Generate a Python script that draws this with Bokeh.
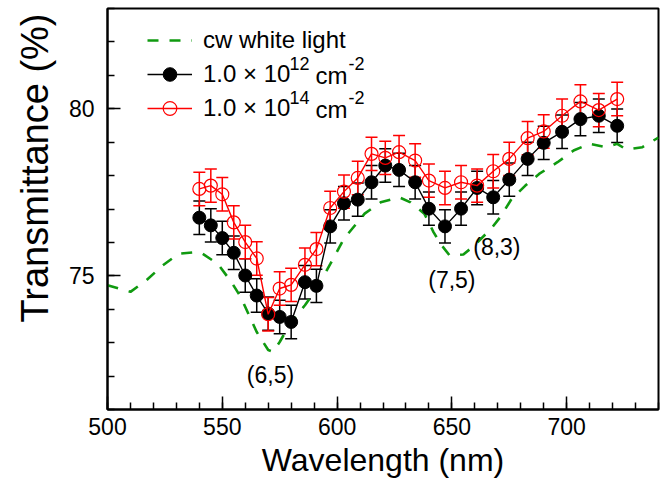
import math
from bokeh.plotting import figure
from bokeh.models import (ColumnDataSource, Whisker, TeeHead, Legend, LegendItem, Label,
                          FixedTicker, Range1d, Title)
from bokeh.embed import file_html
from bokeh.resources import INLINE

# ---------------- data ----------------
wavelength = [540, 545, 550, 555, 560, 565, 570, 575, 580, 586, 591, 597, 603, 609, 615,
              621, 627, 634, 640, 647, 654, 661, 668, 675, 683, 690, 698, 706, 714, 722]
t_1e12 = [76.74, 76.51, 76.13, 75.69, 75.01, 74.41, 73.87, 73.77, 73.62, 74.81, 74.70, 76.48,
          77.17, 77.28, 77.80, 78.30, 78.17, 77.80, 77.01, 76.48, 77.01, 77.63, 77.35, 77.88,
          78.50, 78.98, 79.31, 79.69, 79.79, 79.49]
t_1e14 = [77.60, 77.70, 77.44, 76.60, 76.01, 75.52, 73.85, 74.62, 74.73, 75.33, 75.80, 77.03,
          77.52, 77.93, 78.65, 78.53, 78.70, 78.45, 77.85, 77.63, 77.80, 77.70, 78.13, 78.50,
          79.12, 79.32, 79.79, 80.22, 79.96, 80.29]
err_1e12 = [0.5, 0.5, 0.5, 0.5, 0.5, 0.5, 0.5, 0.5, 0.5, 0.5, 0.5, 0.5, 0.5, 0.5, 0.5,
            0.5, 0.5, 0.5, 0.5, 0.5, 0.5, 0.5, 0.5, 0.5, 0.5, 0.5, 0.5, 0.5, 0.5, 0.5]
err_1e14 = [0.5, 0.5, 0.5, 0.5, 0.5, 0.5, 0.5, 0.5, 0.5, 0.5, 0.5, 0.5, 0.5, 0.5, 0.5,
            0.5, 0.5, 0.5, 0.5, 0.5, 0.5, 0.5, 0.5, 0.5, 0.5, 0.5, 0.5, 0.5, 0.5, 0.5]

cw_wavelength = [500, 510, 517, 524, 531, 539, 541, 548, 554, 558, 562, 565, 570, 572, 575,
                 580, 586, 591, 597, 603, 612, 619, 627, 632, 638, 642, 645, 649, 655, 659,
                 667, 671, 676, 682, 688, 696, 703, 710, 717, 722, 726, 733, 740]
cw_t = [74.72, 74.52, 74.87, 75.31, 75.66, 75.71, 75.68, 75.36, 74.81, 74.37, 73.77, 73.32,
        72.78, 72.73, 73.02, 73.62, 74.12, 74.60, 75.35, 76.11, 76.86, 77.20, 77.35, 77.20,
        76.86, 76.31, 75.96, 75.61, 75.64, 75.86, 76.40, 76.75, 77.30, 77.70, 78.05, 78.40,
        78.75, 78.95, 78.85, 78.95, 78.78, 78.85, 79.14]

x_major = [500, 550, 600, 650, 700]
x_minor = [500, 510, 520, 530, 540, 550, 560, 570, 580, 590, 600, 610, 620, 630, 640,
           650, 660, 670, 680, 690, 700, 710, 720, 730, 740]
y_major = [75, 80]
y_minor = [71, 72, 73, 74, 75, 76, 77, 78, 79, 80, 81, 82, 83]

peak_labels = ["(6,5)", "(7,5)", "(8,3)"]
peak_x = [571, 650, 669.6]
peak_y = [72.03, 74.87, 75.86]

x_title = "Wavelength (nm)"
y_title = "Transmittance (%)"
legend_labels = ["cw white light", "1.0 \u00d7 10", "1.0 \u00d7 10"]
legend_exponents = ["12", "14"]
unit_text = "cm"
unit_exponent = "-2"

FONT = "Liberation Sans"
GREEN = "#109a10"

# ---------------- figure ----------------
p = figure(width=670, height=485, x_range=Range1d(500, 740), y_range=Range1d(71, 83),
           output_backend="svg", toolbar_location=None, title=None,
           min_border_left=107, min_border_right=12, min_border_top=8, min_border_bottom=76)
p.background_fill_color = "white"
p.border_fill_color = "white"
p.outline_line_color = "black"
p.outline_line_width = 2
p.xgrid.visible = False
p.ygrid.visible = False

for ax in (p.xaxis, p.yaxis):
    ax.axis_line_width = 2
    ax.axis_line_color = "black"
    ax.major_tick_in = 13
    ax.major_tick_out = 0
    ax.minor_tick_in = 7
    ax.minor_tick_out = 0
    ax.major_tick_line_width = 1.5
    ax.minor_tick_line_width = 1.5
    ax.major_tick_line_color = "black"
    ax.minor_tick_line_color = "black"
    ax.major_label_text_font = FONT
    ax.major_label_text_font_size = "23px"
    ax.major_label_text_color = "black"

p.xaxis.ticker = FixedTicker(ticks=x_major, minor_ticks=x_minor)
p.yaxis.ticker = FixedTicker(ticks=y_major, minor_ticks=y_minor)
p.xaxis.major_label_standoff = 8
p.yaxis.major_label_standoff = 13

p.xaxis.axis_label = x_title
p.xaxis.axis_label_text_font = FONT
p.xaxis.axis_label_text_font_size = "32px"
p.xaxis.axis_label_text_font_style = "normal"
p.xaxis.axis_label_text_color = "black"
p.xaxis.axis_label_standoff = 4
p.yaxis.axis_label = None

p.add_layout(Title(text=y_title, align="right", offset=5, standoff=19,
                   text_font=FONT, text_font_size="38px", text_font_style="normal",
                   text_color="black"), "left")

# ---------------- data renderers ----------------
g = p.line(cw_wavelength, cw_t, line_color=GREEN, line_width=2.6, line_dash="11 11")

src_b = ColumnDataSource(dict(x=wavelength, y=t_1e12,
                              up=[v + e for v, e in zip(t_1e12, err_1e12)],
                              lo=[v - e for v, e in zip(t_1e12, err_1e12)]))
src_r = ColumnDataSource(dict(x=wavelength, y=t_1e14,
                              up=[v + e for v, e in zip(t_1e14, err_1e14)],
                              lo=[v - e for v, e in zip(t_1e14, err_1e14)]))

wb = Whisker(source=src_b, base="x", upper="up", lower="lo", line_color="black", line_width=1.5,
             upper_head=TeeHead(size=12, line_color="black", line_width=1.5),
             lower_head=TeeHead(size=12, line_color="black", line_width=1.5))
p.add_layout(wb)
wr = Whisker(source=src_r, base="x", upper="up", lower="lo", line_color="red", line_width=1.5,
             upper_head=TeeHead(size=12, line_color="red", line_width=1.5),
             lower_head=TeeHead(size=12, line_color="red", line_width=1.5))
p.add_layout(wr)

bl = p.line("x", "y", source=src_b, line_color="black", line_width=1.4)
bp = p.scatter("x", "y", source=src_b, size=13, marker="circle", fill_color="black",
               line_color="black")
rl = p.line("x", "y", source=src_r, line_color="red", line_width=1.4)
rp = p.scatter("x", "y", source=src_r, size=13, marker="circle", fill_color=None,
               line_color="red", line_width=1.2)

# ---------------- annotations ----------------
for txt, xx, yy in zip(peak_labels, peak_x, peak_y):
    p.add_layout(Label(x=xx, y=yy, text=txt, text_font=FONT, text_font_size="23px",
                       text_align="center", text_baseline="middle", text_color="black"))

legend = Legend(items=[LegendItem(label=legend_labels[0], renderers=[g]),
                       LegendItem(label=legend_labels[1], renderers=[bl, bp]),
                       LegendItem(label=legend_labels[2], renderers=[rl, rp])],
                location=(40, 284), padding=0, spacing=0, glyph_width=45, glyph_height=34,
                label_height=34, label_standoff=11, label_text_font=FONT,
                label_text_font_size="24px", label_text_color="black",
                border_line_color=None, background_fill_alpha=0)
p.add_layout(legend)

# superscripts and units of the legend entries (screen offsets from the frame's bottom-left)
for row_y, expo in zip([334, 300], legend_exponents):
    p.add_layout(Label(x=182, y=row_y + 12, x_units="screen", y_units="screen", text=expo,
                       text_font=FONT, text_font_size="18px", text_baseline="middle",
                       text_color="black"))
    p.add_layout(Label(x=208, y=row_y, x_units="screen", y_units="screen", text=unit_text,
                       text_font=FONT, text_font_size="24px", text_baseline="middle",
                       text_color="black"))
    p.add_layout(Label(x=241, y=row_y + 12, x_units="screen", y_units="screen",
                       text=unit_exponent, text_font=FONT, text_font_size="18px",
                       text_baseline="middle", text_color="black"))

open("out.html", "w").write(file_html(p, INLINE))
